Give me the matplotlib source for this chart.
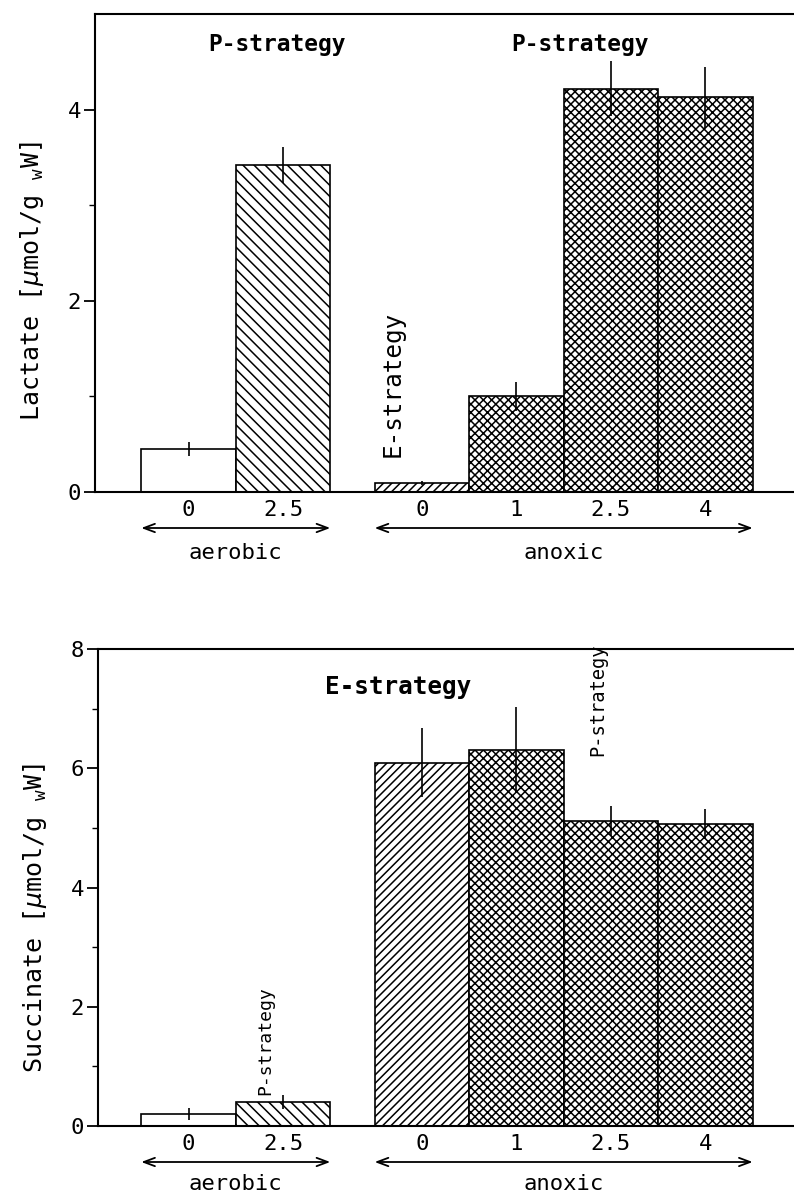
import matplotlib
matplotlib.use('Agg')
import matplotlib.pyplot as plt
from matplotlib.transforms import ScaledTranslation

plt.rcParams['font.family'] = ['DejaVu Sans Mono', 'DejaVu Sans']
plt.rcParams['mathtext.fontset'] = 'custom'
plt.rcParams['mathtext.rm'] = 'DejaVu Sans Mono'
plt.rcParams['hatch.linewidth'] = 1.1

# ---- data ----
groups = ['aerobic', 'anoxic']
group_sizes = [2, 4]
tick_labels = ['0', '2.5', '0', '1', '2.5', '4']
lactate = [0.45, 3.42, 0.09, 1.00, 4.22, 4.13]
lactate_err = [0.07, 0.19, 0.02, 0.15, 0.29, 0.32]
succinate = [0.20, 0.40, 6.09, 6.31, 5.12, 5.07]
succinate_err = [0.10, 0.12, 0.58, 0.72, 0.25, 0.25]
hatches_top = ['', '\\\\\\', '////', 'xxxx', 'xxxx', 'xxxx']
hatches_bot = ['', '\\\\\\', '////', 'xxxx', 'xxxx', 'xxxx']

# ---- layout ----
gap = 0.47
x = []
group_edges = []
start = 0.0
for n in group_sizes:
    xs = [start + i for i in range(n)]
    x.extend(xs)
    group_edges.append((xs[0] - 0.5, xs[-1] + 0.5))
    start = xs[-1] + 1 + gap

W, H = 794, 1194
fig = plt.figure(figsize=(W / 100, H / 100), dpi=100)

FS = 16


def panel(ax, vals, errs, hatches, ylim, major, minor, ylabel, xleft, label_y,
          lab_off):
    ax.bar(x, vals, width=1.0, color='white', edgecolor='black',
           linewidth=1.2, hatch=hatches, zorder=2)
    ax.errorbar(x, vals, yerr=errs, fmt='none', ecolor='black',
                elinewidth=1.2, capsize=0, zorder=3)
    ax.set_xlim(xleft, (W - 188.5) / 94.5)
    ax.set_ylim(*ylim)
    ax.set_yticks(major)
    ax.set_yticks(minor, minor=True)
    ax.set_yticklabels([str(v) for v in major], fontsize=FS)
    ax.set_xticks(x)
    ax.set_xticklabels(tick_labels, fontsize=FS)
    ax.tick_params(axis='x', length=0, pad=6)
    ax.tick_params(axis='y', which='major', direction='out', length=8,
                   width=1.3, pad=2)
    ax.tick_params(axis='y', which='minor', direction='out', length=4,
                   width=1.0)
    ax.spines['right'].set_visible(False)
    for s in ['left', 'top', 'bottom']:
        ax.spines[s].set_linewidth(1.5)
    ax.set_ylabel(ylabel, fontsize=18)
    ax.yaxis.set_label_coords(-0.07, label_y)
    tr_arrow = ax.get_xaxis_transform() + ScaledTranslation(0, -0.36, fig.dpi_scale_trans)
    tr_lab = ax.get_xaxis_transform() + ScaledTranslation(0, -lab_off, fig.dpi_scale_trans)
    for g, (a, b) in zip(groups, group_edges):
        ax.annotate('', xy=(b, 0), xycoords=tr_arrow, xytext=(a, 0),
                    textcoords=tr_arrow,
                    arrowprops=dict(arrowstyle='<->,head_length=0.8,head_width=0.3',
                                    lw=1.3, color='black', shrinkA=0, shrinkB=0))
        ax.text((a + b) / 2, 0, g, transform=tr_lab, ha='center', va='center',
                fontsize=FS)


ax1 = fig.add_axes([95 / W, 1 - 492 / H, 1 - 95 / W, (492 - 14) / H])
panel(ax1, lactate, lactate_err, hatches_top, (0, 5), [0, 2, 4], [1, 3],
      r'Lactate [$\mu$mol/g $_{\rm w}$W]', (95 - 188.5) / 94.5, 0.44, 0.61)
ax1.text(0.94, 4.68, 'P-strategy', ha='center', va='center', fontsize=16.5,
         fontweight='bold')
ax1.text(4.14, 4.68, 'P-strategy', ha='center', va='center', fontsize=16.5,
         fontweight='bold')
ax1.text(2.16, 1.13, 'E-strategy', ha='center', va='center', fontsize=17.5,
         rotation=90)

ax2 = fig.add_axes([98 / W, 1 - 1126 / H, 1 - 98 / W, (1126 - 649) / H])
panel(ax2, succinate, succinate_err, hatches_bot, (0, 8), [0, 2, 4, 6, 8],
      [1, 3, 5, 7], r'Succinate [$\mu$mol/g $_{\rm w}$W]', (98 - 188.5) / 94.5,
      0.436, 0.58)
ax2.text(2.22, 7.37, 'E-strategy', ha='center', va='center', fontsize=17.5,
         fontweight='bold')
ax2.text(0.81, 1.44, 'P-strategy', ha='center', va='center', fontsize=13,
         rotation=90)
ax2.text(4.33, 7.15, 'P-strategy', ha='center', va='center', fontsize=13.5,
         rotation=90)

fig.savefig('out.png', dpi=100)
